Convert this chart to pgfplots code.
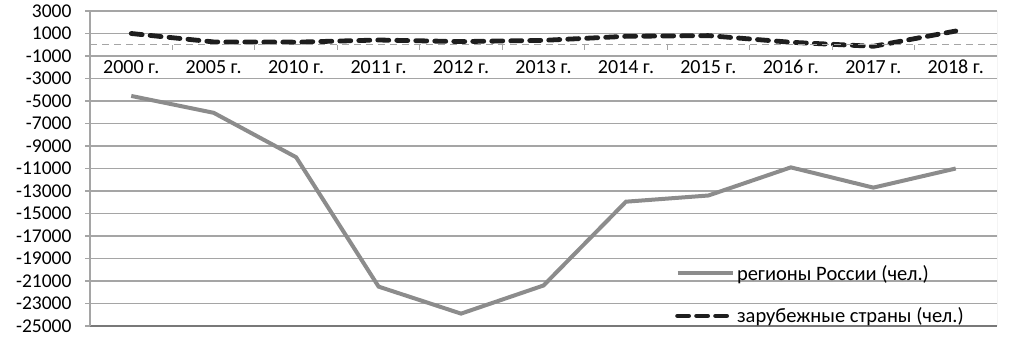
\documentclass[border=0pt]{standalone}
\usepackage{pgfplots}
\pgfplotsset{compat=1.18}
\usepackage{fontspec}
\setmainfont{Carlito}
\definecolor{gridc}{RGB}{165,165,165}
\definecolor{botc}{RGB}{120,120,120}
\definecolor{serA}{RGB}{140,140,140}
\definecolor{serB}{RGB}{30,30,30}
\pgfplotstableread{
x ru  ab
0 -4550  1000
1 -6050  250
2 -10000 230
3 -21500 420
4 -23900 280
5 -21400 390
6 -13950 750
7 -13400 810
8 -10900 220
9 -12700 -140
10 -11000 1220
}\data
\begin{document}
\begin{tikzpicture}[x=1pt,y=1pt]
\path[use as bounding box] (0,0) rectangle (1009,351);
\begin{axis}[at={(90pt,25pt)}, anchor=south west, scale only axis,
  width=907pt, height=315pt,
  xmin=-0.5, xmax=10.5, ymin=-25000, ymax=3000,
  ytick={-25000,-23000,...,3000},
  scaled y ticks=false,
  xtick=\empty,
  ymajorgrids, grid style={gridc, line width=1.5pt},
  separate axis lines,
  x axis line style={botc, line width=2pt},
  y axis line style={gridc, line width=1.5pt},
  axis x line*=bottom, axis y line*=left,
  tick style={gridc, line width=1.5pt}, major tick length=5pt, tick align=outside,
  /pgf/number format/assume math mode=true,
  /pgf/number format/1000 sep={},
  yticklabel style={font=\fontsize{19.5}{22}\selectfont, xshift=-10pt},
  legend style={draw=none, fill=none, at={(0.645,0.20)}, anchor=north west,
     font=\fontsize{20.5}{23}\selectfont, row sep=22pt, inner sep=0pt},
  legend cell align=left,
  legend image code/.code={\draw[#1] (0pt,0pt) -- (55pt,0pt);},
]
\addplot[serA, line width=4pt] table[x=x, y=ru] {\data};
\addlegendentry{регионы России (чел.)}
\addplot[serB, line width=4.8pt, line cap=round, dash pattern=on 11pt off 8pt] table[x=x, y=ab] {\data};
\addlegendentry{зарубежные страны (чел.)}
\draw[gridc, line width=1pt] (rel axis cs:1,0) -- (rel axis cs:1,1);
\draw[gridc, line width=1.5pt] (rel axis cs:0,1) -- (rel axis cs:1,1);
\end{axis}
\begin{axis}[at={(90pt,25pt)}, anchor=south west, scale only axis,
  width=907pt, height=315pt,
  xmin=-0.5, xmax=10.5, ymin=-25000, ymax=3000,
  axis x line=middle, axis y line=none,
  x axis line style={gridc, dash pattern=on 7pt off 5pt, line width=1pt, -},
  xtick={0,...,10},
  xticklabels={2000 г.,2005 г.,2010 г.,2011 г.,2012 г.,2013 г.,2014 г.,2015 г.,2016 г.,2017 г.,2018 г.},
  major tick length=0pt,
  minor xtick={0.5,1.5,...,9.5},
  minor tick length=5pt, tick align=outside,
  minor tick style={gridc, line width=1pt},
  xticklabel style={font=\fontsize{20}{22}\selectfont, anchor=north, text height=13pt, text depth=3pt, yshift=-12pt},
]
\end{axis}
\end{tikzpicture}
\end{document}
